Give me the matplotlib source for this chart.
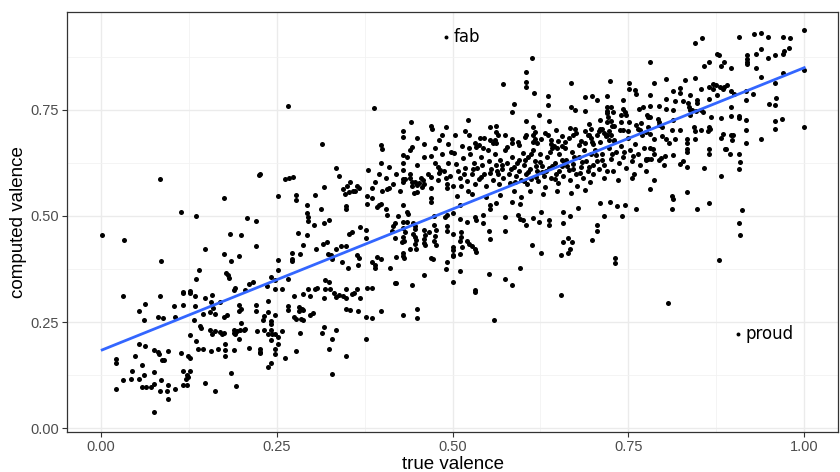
import numpy as np
import matplotlib.pyplot as plt

# (true valence, computed valence), grouped by region
pts_low = [
    (0.002, 0.454), (0.033, 0.443), (0.022, 0.093), (0.022, 0.163), (0.022, 0.153), (0.032, 0.113),
    (0.031, 0.311), (0.044, 0.134), (0.043, 0.116), (0.048, 0.171), (0.054, 0.197), (0.054, 0.115),
    (0.054, 0.276), (0.063, 0.292), (0.062, 0.255), (0.059, 0.149), (0.063, 0.193), (0.061, 0.124),
    (0.058, 0.096), (0.064, 0.096), (0.075, 0.132), (0.075, 0.104), (0.071, 0.096), (0.075, 0.038),
    (0.076, 0.185), (0.082, 0.179), (0.083, 0.175), (0.081, 0.262), (0.088, 0.260), (0.084, 0.311),
    (0.087, 0.160), (0.090, 0.160), (0.085, 0.114), (0.084, 0.087), (0.094, 0.087), (0.096, 0.181),
    (0.096, 0.101), (0.096, 0.069), (0.104, 0.287), (0.106, 0.262), (0.106, 0.093), (0.114, 0.178),
    (0.117, 0.291), (0.117, 0.134), (0.117, 0.318), (0.127, 0.318), (0.117, 0.101), (0.123, 0.101),
    (0.123, 0.126), (0.124, 0.120), (0.121, 0.115), (0.124, 0.169), (0.127, 0.166), (0.127, 0.134),
    (0.127, 0.219), (0.132, 0.254), (0.134, 0.288), (0.135, 0.205), (0.134, 0.311), (0.138, 0.187),
    (0.145, 0.187), (0.141, 0.241), (0.142, 0.236), (0.145, 0.270), (0.148, 0.307), (0.148, 0.107),
    (0.156, 0.182), (0.155, 0.274), (0.156, 0.297), (0.158, 0.313), (0.160, 0.284), (0.155, 0.230),
    (0.158, 0.222), (0.163, 0.228), (0.169, 0.226), (0.172, 0.222), (0.175, 0.224), (0.162, 0.270),
    (0.169, 0.297), (0.162, 0.087), (0.166, 0.186), (0.176, 0.183), (0.177, 0.199), (0.177, 0.171),
    (0.185, 0.130), (0.190, 0.183), (0.192, 0.098), (0.175, 0.262), (0.179, 0.266), (0.189, 0.230),
    (0.191, 0.222), (0.194, 0.228), (0.198, 0.232), (0.203, 0.231), (0.205, 0.233), (0.222, 0.229),
    (0.190, 0.225), (0.196, 0.290), (0.199, 0.281), (0.196, 0.276), (0.199, 0.248), (0.196, 0.209),
    (0.210, 0.189), (0.221, 0.289), (0.221, 0.277), (0.226, 0.187), (0.226, 0.179),
    (0.084, 0.587), (0.114, 0.509), (0.135, 0.501), (0.085, 0.395), (0.148, 0.423), (0.139, 0.372),
    (0.135, 0.352), (0.117, 0.321), (0.127, 0.322), (0.175, 0.542), (0.183, 0.458), (0.200, 0.454),
    (0.175, 0.410), (0.196, 0.406), (0.185, 0.394), (0.178, 0.366), (0.181, 0.360), (0.182, 0.354),
    (0.191, 0.330), (0.189, 0.325), (0.205, 0.326), (0.210, 0.340), (0.216, 0.344), (0.208, 0.495),
    (0.220, 0.489), (0.220, 0.429), (0.225, 0.597),
]

pts_midlow = [
    (0.226, 0.598), (0.334, 0.612), (0.339, 0.594), (0.262, 0.588), (0.267, 0.590), (0.273, 0.591),
    (0.252, 0.546), (0.277, 0.550), (0.277, 0.538), (0.293, 0.527), (0.305, 0.549), (0.318, 0.569),
    (0.313, 0.517), (0.293, 0.508), (0.294, 0.498), (0.295, 0.488), (0.303, 0.478), (0.317, 0.484),
    (0.325, 0.490), (0.281, 0.459), (0.293, 0.454), (0.288, 0.432), (0.272, 0.413), (0.272, 0.398),
    (0.272, 0.393), (0.283, 0.411), (0.252, 0.397), (0.252, 0.372), (0.242, 0.356), (0.248, 0.348),
    (0.266, 0.352), (0.236, 0.334), (0.248, 0.329), (0.257, 0.329), (0.345, 0.563), (0.350, 0.570),
    (0.354, 0.579), (0.364, 0.571), (0.367, 0.566), (0.347, 0.553), (0.353, 0.556), (0.359, 0.559),
    (0.362, 0.560), (0.380, 0.608), (0.386, 0.566), (0.379, 0.547), (0.386, 0.543), (0.379, 0.529),
    (0.399, 0.625), (0.349, 0.524), (0.349, 0.516), (0.341, 0.429), (0.348, 0.429), (0.353, 0.458),
    (0.357, 0.462), (0.368, 0.474), (0.377, 0.466), (0.377, 0.448), (0.335, 0.421), (0.327, 0.409),
    (0.328, 0.403), (0.328, 0.398), (0.343, 0.392), (0.352, 0.378), (0.364, 0.409), (0.367, 0.401),
    (0.366, 0.385), (0.386, 0.392), (0.390, 0.385), (0.393, 0.403), (0.390, 0.377), (0.398, 0.399),
    (0.306, 0.421), (0.316, 0.435), (0.321, 0.439), (0.323, 0.411), (0.386, 0.330), (0.294, 0.327),
    (0.304, 0.329), (0.308, 0.330), (0.319, 0.348), (0.325, 0.344), (0.319, 0.327), (0.326, 0.327),
    (0.349, 0.329), (0.364, 0.327), (0.378, 0.330),
    (0.237, 0.300), (0.237, 0.274), (0.232, 0.263), (0.231, 0.254), (0.247, 0.266), (0.242, 0.252),
    (0.242, 0.246), (0.232, 0.230), (0.242, 0.232), (0.238, 0.222), (0.243, 0.222), (0.248, 0.222),
    (0.252, 0.215), (0.242, 0.207), (0.252, 0.199), (0.257, 0.228), (0.226, 0.177), (0.247, 0.186),
    (0.247, 0.174), (0.242, 0.153), (0.237, 0.145), (0.262, 0.165), (0.277, 0.181), (0.266, 0.288),
    (0.266, 0.278), (0.274, 0.311), (0.282, 0.285), (0.286, 0.281), (0.282, 0.276), (0.288, 0.278),
    (0.274, 0.262), (0.278, 0.258), (0.284, 0.258), (0.288, 0.255), (0.283, 0.225), (0.288, 0.317),
    (0.297, 0.311), (0.297, 0.267), (0.301, 0.272), (0.318, 0.307), (0.317, 0.238), (0.314, 0.225),
    (0.328, 0.209), (0.325, 0.186), (0.334, 0.230), (0.328, 0.127), (0.349, 0.169), (0.331, 0.318),
    (0.338, 0.313), (0.335, 0.309), (0.345, 0.311), (0.349, 0.307), (0.349, 0.281), (0.354, 0.278),
    (0.357, 0.317), (0.360, 0.318), (0.368, 0.307), (0.366, 0.277), (0.377, 0.261), (0.385, 0.259),
    (0.377, 0.209), (0.398, 0.277), (0.266, 0.760), (0.315, 0.669), (0.389, 0.755), (0.398, 0.667),
    (0.400, 0.659),
]

pts_mid = [
    (0.407, 0.563), (0.410, 0.566), (0.392, 0.521), (0.396, 0.527), (0.398, 0.529), (0.406, 0.516),
    (0.407, 0.502), (0.411, 0.377), (0.418, 0.342), (0.419, 0.404), (0.418, 0.448), (0.414, 0.464),
    (0.416, 0.476), (0.418, 0.484), (0.423, 0.499), (0.429, 0.608), (0.429, 0.625), (0.429, 0.588),
    (0.433, 0.588), (0.430, 0.643), (0.440, 0.590), (0.442, 0.580), (0.443, 0.570), (0.447, 0.580),
    (0.450, 0.572), (0.453, 0.577), (0.456, 0.568), (0.458, 0.585), (0.459, 0.575), (0.449, 0.557),
    (0.470, 0.642), (0.470, 0.592), (0.470, 0.543), (0.470, 0.533), (0.480, 0.616), (0.482, 0.608),
    (0.481, 0.601), (0.491, 0.590), (0.492, 0.576), (0.492, 0.567), (0.500, 0.570), (0.429, 0.525),
    (0.435, 0.509), (0.437, 0.504), (0.430, 0.486), (0.435, 0.486), (0.429, 0.472), (0.433, 0.462),
    (0.430, 0.450), (0.431, 0.440), (0.428, 0.439), (0.429, 0.413), (0.430, 0.406), (0.431, 0.400),
    (0.440, 0.423), (0.442, 0.338), (0.444, 0.484), (0.447, 0.476), (0.446, 0.469), (0.444, 0.458),
    (0.447, 0.450), (0.448, 0.443), (0.446, 0.434), (0.448, 0.423), (0.459, 0.466), (0.461, 0.456),
    (0.460, 0.445), (0.459, 0.436), (0.461, 0.431), (0.467, 0.462), (0.473, 0.500), (0.474, 0.478),
    (0.476, 0.466), (0.475, 0.453), (0.474, 0.440), (0.476, 0.431), (0.490, 0.498), (0.492, 0.502),
    (0.492, 0.476), (0.492, 0.464), (0.500, 0.507), (0.492, 0.392), (0.491, 0.376), (0.470, 0.402),
    (0.472, 0.398), (0.460, 0.362), (0.420, 0.342), (0.500, 0.420), (0.500, 0.405), (0.430, 0.267),
    (0.449, 0.281), (0.449, 0.260), (0.441, 0.721), (0.429, 0.700), (0.430, 0.686), (0.470, 0.711),
    (0.471, 0.705), (0.491, 0.709), (0.481, 0.679), (0.494, 0.669), (0.442, 0.663), (0.440, 0.655),
    (0.390, 0.580), (0.395, 0.600), (0.400, 0.560), (0.405, 0.590), (0.410, 0.615), (0.415, 0.575),
    (0.420, 0.600), (0.425, 0.560), (0.430, 0.580), (0.435, 0.640), (0.440, 0.600), (0.445, 0.555),
    (0.450, 0.620), (0.455, 0.590), (0.460, 0.640), (0.465, 0.600), (0.470, 0.565), (0.475, 0.625),
    (0.480, 0.585), (0.485, 0.645), (0.488, 0.605), (0.493, 0.625), (0.497, 0.595), (0.460, 0.670),
    (0.475, 0.660), (0.450, 0.685), (0.485, 0.690), (0.498, 0.650),
]

pts_upper = [
    (0.502, 0.648), (0.505, 0.622), (0.508, 0.605), (0.510, 0.590), (0.512, 0.571), (0.515, 0.637),
    (0.518, 0.612), (0.520, 0.583), (0.522, 0.560), (0.525, 0.645), (0.527, 0.598), (0.530, 0.626),
    (0.532, 0.575), (0.535, 0.612), (0.537, 0.588), (0.540, 0.640), (0.542, 0.620), (0.545, 0.600),
    (0.547, 0.570), (0.550, 0.655), (0.552, 0.630), (0.555, 0.610), (0.557, 0.585), (0.560, 0.645),
    (0.562, 0.620), (0.564, 0.598), (0.566, 0.575), (0.568, 0.632), (0.570, 0.610), (0.572, 0.590),
    (0.575, 0.655), (0.577, 0.625), (0.580, 0.600), (0.582, 0.578), (0.585, 0.640), (0.587, 0.615),
    (0.590, 0.595), (0.592, 0.625), (0.595, 0.605), (0.597, 0.585), (0.600, 0.648), (0.506, 0.548),
    (0.528, 0.552), (0.548, 0.545), (0.568, 0.550), (0.588, 0.558), (0.598, 0.545), (0.513, 0.665),
    (0.538, 0.668), (0.558, 0.672), (0.578, 0.662), (0.595, 0.668), (0.503, 0.690), (0.523, 0.660),
    (0.545, 0.683), (0.565, 0.690), (0.584, 0.682), (0.518, 0.700),
    (0.602, 0.620), (0.604, 0.598), (0.606, 0.575), (0.608, 0.640), (0.610, 0.610), (0.612, 0.588),
    (0.615, 0.655), (0.617, 0.630), (0.620, 0.605), (0.622, 0.582), (0.625, 0.645), (0.627, 0.618),
    (0.630, 0.595), (0.632, 0.568), (0.635, 0.638), (0.637, 0.612), (0.640, 0.590), (0.642, 0.660),
    (0.645, 0.625), (0.647, 0.600), (0.650, 0.578), (0.652, 0.645), (0.655, 0.618), (0.657, 0.595),
    (0.660, 0.660), (0.662, 0.632), (0.665, 0.608), (0.667, 0.585), (0.670, 0.650), (0.672, 0.622),
    (0.675, 0.600), (0.677, 0.570), (0.680, 0.640), (0.682, 0.615), (0.685, 0.590), (0.687, 0.655),
    (0.690, 0.630), (0.692, 0.605), (0.695, 0.580), (0.697, 0.645), (0.700, 0.620), (0.610, 0.560),
    (0.628, 0.552), (0.648, 0.560), (0.668, 0.555), (0.688, 0.562), (0.620, 0.672), (0.640, 0.680),
    (0.660, 0.675), (0.680, 0.668), (0.698, 0.675), (0.605, 0.690), (0.632, 0.695), (0.655, 0.688),
    (0.675, 0.695), (0.694, 0.690),
    (0.613, 0.872), (0.605, 0.840), (0.605, 0.816), (0.605, 0.804), (0.572, 0.812), (0.616, 0.791),
    (0.588, 0.765), (0.585, 0.745), (0.522, 0.726), (0.524, 0.692), (0.539, 0.684), (0.553, 0.710),
    (0.562, 0.712), (0.562, 0.698), (0.553, 0.679), (0.561, 0.679), (0.562, 0.673), (0.574, 0.692),
    (0.532, 0.671), (0.534, 0.663), (0.543, 0.660), (0.584, 0.671), (0.593, 0.675), (0.603, 0.686),
    (0.615, 0.710), (0.617, 0.698), (0.615, 0.690), (0.617, 0.682), (0.615, 0.675), (0.605, 0.724),
    (0.623, 0.737), (0.626, 0.682), (0.636, 0.783), (0.636, 0.762), (0.637, 0.723), (0.647, 0.702),
    (0.636, 0.690), (0.640, 0.670), (0.644, 0.665), (0.650, 0.677), (0.655, 0.665), (0.648, 0.660),
    (0.669, 0.814), (0.668, 0.757), (0.674, 0.749), (0.667, 0.708), (0.674, 0.706), (0.672, 0.692),
    (0.665, 0.685), (0.682, 0.676), (0.689, 0.672), (0.700, 0.670), (0.689, 0.747), (0.689, 0.781),
    (0.699, 0.783), (0.705, 0.773), (0.689, 0.700), (0.694, 0.718), (0.697, 0.706), (0.693, 0.690),
    (0.697, 0.684), (0.705, 0.690), (0.709, 0.726), (0.720, 0.783), (0.720, 0.757), (0.720, 0.747),
    (0.726, 0.757), (0.728, 0.745), (0.724, 0.818), (0.720, 0.742), (0.721, 0.734), (0.719, 0.722),
    (0.712, 0.705), (0.708, 0.700), (0.722, 0.700), (0.727, 0.712), (0.716, 0.696), (0.718, 0.688),
    (0.726, 0.692), (0.722, 0.680), (0.730, 0.676),
    (0.742, 0.773), (0.743, 0.753), (0.745, 0.745), (0.740, 0.737), (0.740, 0.722), (0.738, 0.702),
    (0.743, 0.702), (0.751, 0.814), (0.751, 0.800), (0.759, 0.796), (0.761, 0.788), (0.747, 0.737),
    (0.751, 0.722), (0.761, 0.714), (0.764, 0.706), (0.766, 0.702), (0.765, 0.753), (0.771, 0.757),
    (0.776, 0.737),
    (0.702, 0.655), (0.705, 0.630), (0.708, 0.610), (0.710, 0.675), (0.713, 0.645), (0.716, 0.620),
    (0.720, 0.690), (0.722, 0.660), (0.725, 0.635), (0.728, 0.605), (0.730, 0.678), (0.733, 0.650),
    (0.736, 0.625), (0.740, 0.665), (0.743, 0.640), (0.746, 0.612), (0.750, 0.685), (0.752, 0.655),
    (0.755, 0.630), (0.758, 0.600), (0.760, 0.670), (0.763, 0.645), (0.766, 0.620), (0.770, 0.690),
    (0.772, 0.660), (0.775, 0.635), (0.778, 0.710), (0.715, 0.590), (0.735, 0.585), (0.755, 0.590),
    (0.700, 0.598), (0.710, 0.705), (0.730, 0.712), (0.750, 0.700), (0.768, 0.720), (0.725, 0.725),
]

# extra points in the densest part of the cloud
pts_dense = [
    (0.553, 0.602), (0.571, 0.621), (0.583, 0.611), (0.594, 0.632), (0.607, 0.604), (0.618, 0.593),
    (0.624, 0.628), (0.633, 0.607), (0.641, 0.618), (0.651, 0.606), (0.663, 0.619), (0.671, 0.611),
    (0.684, 0.628), (0.603, 0.633), (0.612, 0.647), (0.627, 0.603), (0.638, 0.650), (0.646, 0.587),
    (0.658, 0.628), (0.673, 0.640), (0.563, 0.606), (0.541, 0.593), (0.529, 0.611), (0.516, 0.598),
    (0.589, 0.581), (0.601, 0.582), (0.619, 0.617), (0.655, 0.632), (0.681, 0.602), (0.694, 0.616),
    (0.712, 0.632), (0.727, 0.646), (0.744, 0.652), (0.704, 0.643), (0.719, 0.607), (0.757, 0.642),
]

pts_lowright = [
    (0.510, 0.525), (0.511, 0.494), (0.521, 0.486), (0.532, 0.498), (0.533, 0.490), (0.543, 0.502),
    (0.543, 0.483), (0.501, 0.458), (0.512, 0.462), (0.512, 0.450), (0.510, 0.440), (0.513, 0.427),
    (0.501, 0.427), (0.501, 0.407), (0.521, 0.440), (0.523, 0.435), (0.528, 0.429), (0.532, 0.423),
    (0.533, 0.415), (0.511, 0.411), (0.511, 0.370), (0.501, 0.344), (0.532, 0.326), (0.552, 0.465),
    (0.553, 0.445), (0.552, 0.364), (0.574, 0.498), (0.574, 0.465), (0.574, 0.352), (0.585, 0.337),
    (0.596, 0.378), (0.593, 0.502), (0.596, 0.494), (0.600, 0.490), (0.605, 0.478), (0.613, 0.431),
    (0.626, 0.413), (0.614, 0.495), (0.623, 0.486), (0.626, 0.509), (0.637, 0.490), (0.637, 0.478),
    (0.657, 0.509), (0.657, 0.484), (0.667, 0.500), (0.657, 0.439), (0.664, 0.448), (0.670, 0.439),
    (0.667, 0.423), (0.664, 0.413), (0.654, 0.409), (0.679, 0.519), (0.699, 0.443), (0.705, 0.479),
    (0.706, 0.464), (0.715, 0.500), (0.731, 0.400), (0.731, 0.389), (0.741, 0.500), (0.761, 0.517),
    (0.745, 0.527), (0.734, 0.524), (0.724, 0.533), (0.709, 0.531), (0.596, 0.529), (0.584, 0.533),
    (0.562, 0.531), (0.553, 0.525), (0.554, 0.517), (0.532, 0.321), (0.559, 0.254), (0.654, 0.314),
    (0.807, 0.296),
]

pts_high = [
    (0.787, 0.645), (0.782, 0.634), (0.778, 0.634), (0.775, 0.631), (0.794, 0.631), (0.797, 0.637),
    (0.802, 0.641), (0.813, 0.643), (0.801, 0.620), (0.775, 0.605), (0.787, 0.584), (0.781, 0.564),
    (0.824, 0.623), (0.828, 0.630), (0.834, 0.616), (0.834, 0.651), (0.812, 0.546), (0.813, 0.541),
    (0.812, 0.517), (0.834, 0.557), (0.847, 0.516), (0.858, 0.612), (0.865, 0.646), (0.865, 0.531),
    (0.881, 0.594), (0.894, 0.645), (0.907, 0.645), (0.909, 0.627), (0.907, 0.610), (0.912, 0.513),
    (0.907, 0.483), (0.909, 0.455), (0.879, 0.397),
    (1.000, 0.938), (1.000, 0.844), (1.000, 0.710), (0.980, 0.920), (0.970, 0.922), (0.948, 0.922),
    (0.939, 0.932), (0.928, 0.928), (0.907, 0.922), (0.854, 0.919), (0.845, 0.907), (0.979, 0.895),
    (0.971, 0.888), (0.970, 0.883), (0.959, 0.880), (0.948, 0.873), (0.939, 0.893), (0.931, 0.883),
    (0.918, 0.880), (0.918, 0.871), (0.918, 0.863), (0.918, 0.858), (0.931, 0.849), (0.970, 0.837),
    (0.939, 0.828), (0.959, 0.814), (0.917, 0.794), (0.927, 0.787), (0.917, 0.773), (0.960, 0.778),
    (0.950, 0.763), (0.959, 0.761), (0.959, 0.724), (0.968, 0.728), (0.959, 0.706), (0.939, 0.682),
    (0.917, 0.702), (0.917, 0.726), (0.907, 0.730), (0.907, 0.736), (0.896, 0.692), (0.898, 0.679),
    (0.888, 0.659), (0.876, 0.883), (0.879, 0.880), (0.865, 0.862), (0.858, 0.854), (0.886, 0.862),
    (0.881, 0.853), (0.896, 0.849), (0.845, 0.825), (0.831, 0.820), (0.803, 0.822), (0.787, 0.814),
    (0.781, 0.862), (0.870, 0.812), (0.875, 0.810), (0.880, 0.805), (0.886, 0.803), (0.890, 0.808),
    (0.884, 0.800), (0.865, 0.804), (0.870, 0.799), (0.896, 0.794), (0.900, 0.788), (0.853, 0.799),
    (0.838, 0.785), (0.824, 0.801), (0.824, 0.790), (0.813, 0.795), (0.781, 0.785), (0.827, 0.771),
    (0.817, 0.771), (0.803, 0.775), (0.813, 0.751), (0.803, 0.753), (0.793, 0.759), (0.781, 0.759),
    (0.835, 0.766), (0.836, 0.758), (0.838, 0.751), (0.840, 0.749), (0.847, 0.773), (0.847, 0.767),
    (0.865, 0.777), (0.876, 0.785), (0.846, 0.747), (0.853, 0.751), (0.856, 0.745), (0.868, 0.733),
    (0.896, 0.757), (0.896, 0.736), (0.864, 0.710), (0.866, 0.704), (0.863, 0.700), (0.881, 0.730),
    (0.885, 0.694), (0.899, 0.692), (0.881, 0.684), (0.864, 0.657), (0.889, 0.657), (0.853, 0.702),
    (0.844, 0.710), (0.845, 0.700), (0.845, 0.682), (0.834, 0.681), (0.834, 0.673), (0.824, 0.702),
    (0.813, 0.726), (0.812, 0.702), (0.817, 0.682), (0.803, 0.682), (0.808, 0.671), (0.798, 0.710),
    (0.792, 0.728), (0.793, 0.722), (0.794, 0.715), (0.781, 0.733), (0.778, 0.733), (0.781, 0.694),
    (0.775, 0.698), (0.798, 0.689), (0.786, 0.682), (0.838, 0.737), (0.833, 0.657), (0.781, 0.660),
    (0.785, 0.657), (0.917, 0.671),
]

fab = (0.491, 0.922)
proud = (0.906, 0.222)

x_ticks = [0.00, 0.25, 0.50, 0.75, 1.00]
y_ticks = [0.00, 0.25, 0.50, 0.75]

pts = pts_low + pts_midlow + pts_mid + pts_upper + pts_dense + pts_lowright + pts_high
true_val = np.array([p[0] for p in pts] + [fab[0], proud[0]])
comp_val = np.array([p[1] for p in pts] + [fab[1], proud[1]])

plt.rcParams['font.family'] = ['Liberation Sans', 'DejaVu Sans']

fig = plt.figure(figsize=(8.4, 4.72), dpi=100)
ax = fig.add_axes([0.0798, 0.0847, 0.9178, 0.8899])

ax.scatter(true_val[:-2], comp_val[:-2], s=13, color='black', linewidths=0, zorder=3)
ax.scatter(true_val[-2:], comp_val[-2:], s=8, color='black', linewidths=0, zorder=3)

# linear fit like geom_smooth(method = "lm")
slope, intercept = np.polyfit(true_val, comp_val, 1)
fx = np.array([true_val.min(), true_val.max()])
ax.plot(fx, intercept + slope * fx, color='#3366FF', lw=2, zorder=4)

ax.text(fab[0] + 0.01, fab[1], 'fab', fontsize=12, family='DejaVu Sans', va='center', ha='left')
ax.text(proud[0] + 0.01, proud[1], 'proud', fontsize=12, family='DejaVu Sans', va='center', ha='left')

ax.set_xlim(-0.048, 1.048)
ax.set_ylim(-0.0094, 0.981)
ax.set_xticks(x_ticks)
ax.set_xticklabels(['%.2f' % t for t in x_ticks])
ax.set_yticks(y_ticks)
ax.set_yticklabels(['%.2f' % t for t in y_ticks])
ax.set_xticks([0.125, 0.375, 0.625, 0.875], minor=True)
ax.set_yticks([0.125, 0.375, 0.625, 0.875], minor=True)

ax.grid(True, which='major', color='#EBEBEB', lw=1.0, zorder=0)
ax.grid(True, which='minor', color='#F2F2F2', lw=0.6, zorder=0)
ax.tick_params(which='major', length=3.5, width=0.8, color='#333333', labelsize=10.5,
               labelcolor='#4D4D4D', pad=2.5)
ax.tick_params(which='minor', length=0)
for s in ax.spines.values():
    s.set_color('#333333')
    s.set_linewidth(0.9)

ax.set_xlabel('true valence', fontsize=13.5, labelpad=1)
ax.set_ylabel('computed valence', fontsize=13.5, labelpad=2)

fig.savefig('out.png', dpi=100)
